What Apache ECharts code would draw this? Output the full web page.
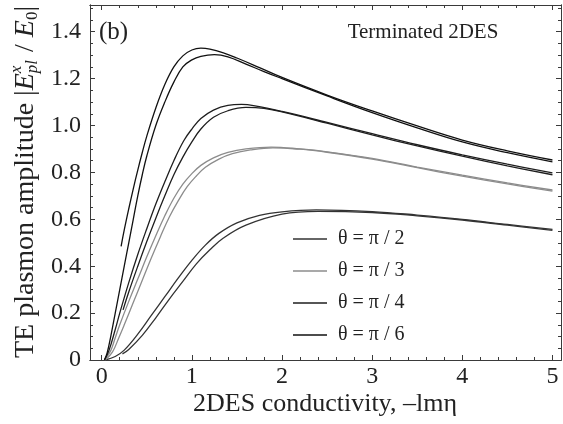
<!DOCTYPE html>
<html>
<head>
<meta charset="utf-8">
<script src="https://cdn.jsdelivr.net/npm/echarts@6/dist/echarts.min.js"></script>
<style>html,body{margin:0;padding:0;background:#fff}#c{width:563px;height:424px}</style>
</head>
<body>
<div id="c"></div>
<script>
// ---- tick labels ----
const xTickValues = [0, 1, 2, 3, 4, 5];
const xTickLabels = ['0', '1', '2', '3', '4', '5'];
const yTickValues = [0, 0.2, 0.4, 0.6, 0.8, 1.0, 1.2, 1.4];
const yTickLabels = ['0', '0.2', '0.4', '0.6', '0.8', '1.0', '1.2', '1.4'];

// ---- legend names ----
const seriesNames = ['θ = π / 2', 'θ = π / 3', 'θ = π / 4', 'θ = π / 6'];

// ---- curves [x, y] ----
// θ = π/6 (top pair)
const pi6Outer = [[0.215,0.485],[0.25,0.555],[0.30,0.645],[0.35,0.73],[0.40,0.81],[0.45,0.885],[0.50,0.955],[0.60,1.075],[0.70,1.175],[0.80,1.25],[0.90,1.297],[1.00,1.322],[1.10,1.33],[1.20,1.326],[1.35,1.31],[1.50,1.288],[1.75,1.247],[2.00,1.205],[2.50,1.13],[3.00,1.062],[3.50,0.998],[4.00,0.938],[4.50,0.892],[5.00,0.853]];
const pi6Inner = [[0.03,0],[0.06,0.03],[0.10,0.10],[0.15,0.20],[0.20,0.30],[0.25,0.40],[0.30,0.50],[0.35,0.60],[0.40,0.70],[0.45,0.79],[0.50,0.87],[0.60,1.0],[0.70,1.1],[0.80,1.185],[0.90,1.25],[1.00,1.28],[1.10,1.295],[1.25,1.302],[1.40,1.293],[1.60,1.262],[1.80,1.23],[2.00,1.2],[2.50,1.126],[3.00,1.055],[3.50,0.99],[4.00,0.93],[4.50,0.884],[5.00,0.845]];
// θ = π/4 (second pair)
const pi4Outer = [[0.03,0],[0.08,0.04],[0.15,0.13],[0.20,0.2],[0.30,0.33],[0.40,0.45],[0.50,0.56],[0.60,0.665],[0.70,0.76],[0.80,0.85],[0.91,0.935],[1.00,0.985],[1.10,1.03],[1.24,1.066],[1.40,1.086],[1.55,1.09],[1.70,1.084],[2.00,1.06],[2.50,1.013],[3.00,0.965],[3.50,0.918],[4.00,0.875],[4.50,0.835],[5.00,0.798]];
const pi4Inner = [[0.237,0.214],[0.30,0.29],[0.40,0.40],[0.50,0.505],[0.60,0.605],[0.70,0.70],[0.80,0.79],[0.90,0.865],[1.00,0.93],[1.10,0.985],[1.24,1.035],[1.40,1.063],[1.60,1.077],[1.80,1.073],[2.00,1.058],[2.50,1.01],[3.00,0.96],[3.50,0.913],[4.00,0.869],[4.50,0.828],[5.00,0.79]];
// θ = π/3 (gray pair)
const pi3Outer = [[0.03,0],[0.10,0.04],[0.15,0.095],[0.20,0.15],[0.30,0.25],[0.40,0.345],[0.50,0.44],[0.60,0.53],[0.70,0.615],[0.80,0.69],[0.90,0.75],[1.00,0.795],[1.10,0.83],[1.24,0.862],[1.40,0.885],[1.60,0.9],[1.88,0.908],[2.20,0.9],[2.50,0.888],[3.00,0.86],[3.50,0.823],[4.00,0.788],[4.50,0.755],[5.00,0.725]];
const pi3Inner = [[0.04,0],[0.12,0.035],[0.19,0.095],[0.25,0.15],[0.35,0.245],[0.45,0.34],[0.55,0.435],[0.65,0.525],[0.75,0.61],[0.85,0.68],[0.95,0.74],[1.05,0.785],[1.15,0.822],[1.30,0.857],[1.45,0.88],[1.65,0.896],[1.90,0.905],[2.20,0.899],[2.50,0.886],[3.00,0.857],[3.50,0.82],[4.00,0.784],[4.50,0.751],[5.00,0.72]];
// θ = π/2 (bottom pair)
const pi2Upper = [[0.04,0],[0.15,0.015],[0.25,0.042],[0.40,0.11],[0.55,0.19],[0.70,0.27],[0.85,0.35],[1.00,0.425],[1.15,0.49],[1.30,0.54],[1.50,0.585],[1.75,0.617],[2.00,0.632],[2.38,0.64],[3.00,0.633],[3.50,0.618],[4.00,0.6],[4.50,0.578],[5.00,0.557]];
const pi2Lower = [[0.23,0.026],[0.30,0.045],[0.45,0.105],[0.60,0.18],[0.75,0.26],[0.90,0.335],[1.05,0.41],[1.20,0.47],[1.35,0.52],[1.60,0.575],[2.00,0.622],[2.40,0.634],[3.00,0.629],[3.50,0.615],[4.00,0.597],[4.50,0.575],[5.00,0.553]];

// minor tick positions
const xMinorTicks = [];
for (let i = 1; i <= 25; i++) { if (i % 5) xMinorTicks.push(+(i * 0.2).toFixed(2)); }
const yMinorTicks = [];
for (let i = 1; i <= 30; i++) { if (i % 4) yMinorTicks.push(+(i * 0.05).toFixed(2)); }

const FONT = '"Liberation Serif", "Times New Roman", serif';
const X_MIN = -0.13, X_MAX = 5.095, Y_MIN = 0, Y_MAX = 1.514;
const frameColor = '#3a3a3a';

function fmt(values, labels) {
  return function (v) {
    for (let i = 0; i < values.length; i++) if (Math.abs(values[i] - v) < 1e-9) return labels[i];
    return '';
  };
}

function xAxisDef(pos, ticks, len, withLabels) {
  return {
    type: 'value', min: X_MIN, max: X_MAX, position: pos,
    axisLine: { show: true, onZero: false, lineStyle: { color: frameColor, width: 1 } },
    axisTick: { show: true, inside: true, length: len, customValues: ticks, lineStyle: { color: frameColor, width: 1 } },
    axisLabel: withLabels ? { show: true, customValues: xTickValues, formatter: fmt(xTickValues, xTickLabels),
      fontFamily: FONT, fontSize: 24, color: '#222', margin: 5 } : { show: false },
    splitLine: { show: false }
  };
}
function yAxisDef(pos, ticks, len, withLabels) {
  return {
    type: 'value', min: Y_MIN, max: Y_MAX, position: pos,
    axisLine: { show: true, onZero: false, lineStyle: { color: frameColor, width: 1 } },
    axisTick: { show: true, inside: true, length: len, customValues: ticks, lineStyle: { color: frameColor, width: 1 } },
    axisLabel: withLabels ? { show: true, customValues: yTickValues, formatter: fmt(yTickValues, yTickLabels),
      fontFamily: FONT, fontSize: 24, color: '#222', margin: 9 } : { show: false },
    splitLine: { show: false }
  };
}

function line(name, data, color, width) {
  return { name: name, type: 'line', data: data, xAxisIndex: 0, yAxisIndex: 0, symbol: 'none', showSymbol: false,
    smooth: 0.4, lineStyle: { color: color, width: width || 1.3 }, itemStyle: { color: color }, silent: true, z: 3 };
}

// y-axis title built from pieces (rotated)
function yTitleGraphics() {
  const cv = document.createElement('canvas').getContext('2d');
  const big = 28, small = 17;
  const fN = big + 'px ' + FONT, fI = 'italic ' + big + 'px ' + FONT;
  const sN = small + 'px ' + FONT, sI = 'italic ' + small + 'px ' + FONT;
  const w = (t, f) => { cv.font = f; return cv.measureText(t).width; };
  const parts = [
    { t: 'TE plasmon amplitude |', f: fN, dx: 0 },
    { t: 'E', f: fI, dx: 0 },
    { stack: [{ t: 'x', f: sI, dx: -9 }, { t: 'pl', f: sI, dx: 7 }] },
    { t: ' / ', f: fN, dx: 0 },
    { t: 'E', f: fI, dx: 0 },
    { t: '0', f: sN, dx: 7 },
    { t: '|', f: fN, dx: 0 }
  ];
  let total = 0;
  parts.forEach(p => {
    if (p.stack) p.w = Math.max.apply(null, p.stack.map(s => w(s.t, s.f))) + 1;
    else p.w = w(p.t, p.f);
    total += p.w;
  });
  const cx = 26, cy = 182;
  let y = cy + total / 2;
  const els = [];
  parts.forEach(p => {
    const items = p.stack ? p.stack : [p];
    items.forEach(s => {
      els.push({ type: 'text', x: cx + s.dx, y: y, rotation: Math.PI / 2,
        style: { text: s.t, font: s.f, fill: '#222', textAlign: 'left', textVerticalAlign: 'middle' } });
    });
    y -= p.w;
  });
  return els;
}

const chart = echarts.init(document.getElementById('c'), null, { renderer: 'canvas' });
chart.setOption({
  animation: false,
  backgroundColor: '#fff',
  grid: { left: 90, right: 2, top: 5, bottom: 64, containLabel: false },
  xAxis: [
    xAxisDef('bottom', xTickValues, 5, true),
    xAxisDef('bottom', xMinorTicks, 3, false),
    xAxisDef('top', xTickValues, 5, false),
    xAxisDef('top', xMinorTicks, 3, false)
  ],
  yAxis: [
    yAxisDef('left', yTickValues, 5, true),
    yAxisDef('left', yMinorTicks, 3, false),
    yAxisDef('right', yTickValues, 5, false),
    yAxisDef('right', yMinorTicks, 3, false)
  ],
  legend: {
    data: seriesNames.map(n => ({ name: n, icon: 'rect' })),
    orient: 'vertical', left: 293, top: 229, padding: 0,
    itemWidth: 34, itemHeight: 1.4, itemGap: 12,
    textStyle: { fontFamily: FONT, fontSize: 20, color: '#222', lineHeight: 20, padding: [0, 0, 0, 6] },
    selectedMode: false
  },
  series: [
    line(seriesNames[0], pi2Upper, '#333'),
    line(seriesNames[0], pi2Lower, '#333'),
    line(seriesNames[1], pi3Outer, '#8c8c8c'),
    line(seriesNames[1], pi3Inner, '#8c8c8c'),
    line(seriesNames[2], pi4Outer, '#1e1e1e'),
    line(seriesNames[2], pi4Inner, '#1e1e1e'),
    line(seriesNames[3], pi6Outer, '#111'),
    line(seriesNames[3], pi6Inner, '#111')
  ],
  graphic: [
    { type: 'text', x: 99, y: 32, style: { text: '(b)', font: '25px ' + FONT, fill: '#222', textVerticalAlign: 'middle' } },
    { type: 'text', x: 423, y: 32, style: { text: 'Terminated 2DES', font: '21px ' + FONT, fill: '#222', textAlign: 'center', textVerticalAlign: 'middle' } },
    { type: 'text', x: 325, y: 404, style: { text: '2DES conductivity, –lmη', font: '26px ' + FONT, fill: '#222', textAlign: 'center', textVerticalAlign: 'middle' } }
  ].concat(yTitleGraphics())
});
</script>
</body>
</html>
